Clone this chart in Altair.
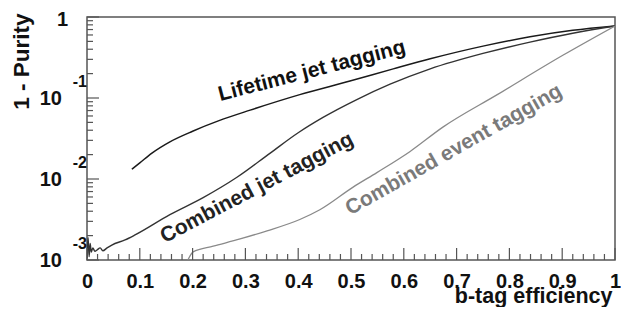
import altair as alt
import pandas as pd

# ---- data ----
lifetime_x = [0.085, 0.10, 0.123, 0.157, 0.20, 0.25, 0.309, 0.403, 0.498, 0.58, 0.65, 0.75, 0.839, 0.92, 1.0]
lifetime_y = [0.0132, 0.0158, 0.0209, 0.0288, 0.0389, 0.0525, 0.0708, 0.110, 0.162, 0.229, 0.305, 0.437, 0.569, 0.684, 0.774]

jet_x = [0.0, 0.002, 0.004, 0.006, 0.008, 0.011, 0.015, 0.019, 0.025, 0.030, 0.038, 0.047, 0.072, 0.091,
         0.157, 0.22, 0.284, 0.347, 0.40, 0.447, 0.511, 0.574, 0.65, 0.75, 0.839, 0.92, 1.0]
jet_y = [0.00105, 0.0019, 0.0011, 0.0016, 0.00125, 0.00141, 0.00128, 0.00133, 0.00141, 0.00130, 0.00141, 0.00153, 0.00177, 0.00204,
         0.00363, 0.00589, 0.0105, 0.0209, 0.0372, 0.0575, 0.0955, 0.148, 0.229, 0.355, 0.490, 0.631, 0.774]

event_x = [0.191, 0.201, 0.239, 0.29, 0.341, 0.403, 0.441, 0.504, 0.549, 0.612, 0.674, 0.777, 0.902, 1.0]
event_y = [0.0010, 0.00126, 0.00148, 0.00182, 0.00229, 0.00316, 0.00417, 0.00794, 0.0120, 0.0219, 0.0437, 0.110, 0.339, 0.774]

series_names = ["Lifetime jet tagging", "Combined jet tagging", "Combined event tagging"]
series_colors = ["#1a1a1a", "#333333", "#8a8a8a"]
series_widths = [1.5, 1.3, 1.2]

x_major_ticks = [0.0, 0.1, 0.2, 0.3, 0.4, 0.5, 0.6, 0.7, 0.8, 0.9, 1.0]
x_minor_ticks = [round(i * 0.02, 2) for i in range(51) if i % 5]
y_major_ticks = [0.001, 0.01, 0.1, 1.0]
y_minor_ticks = [m * 10.0 ** e for e in (-3, -2, -1) for m in range(2, 10)]

y_label_values = [1.0, 0.1, 0.01, 0.001]
y_label_base = ["1", "10", "10", "10"]
y_label_exp = ["", "-1", "-2", "-3"]

label_x = [0.426, 0.322, 0.695]
label_y = [0.215, 0.00774, 0.0228]
label_angle = [345.5, 332.3, 330.5]
label_color = ["#111111", "#222222", "#7a7a7a"]

# ---- build tables ----
rows = []
for name, xs, ys in zip(series_names, [lifetime_x, jet_x, event_x], [lifetime_y, jet_y, event_y]):
    for xv, yv in zip(xs, ys):
        rows.append({"series": name, "x": xv, "y": yv})
df = pd.DataFrame(rows)

W, H = 528, 243
FONT = "Liberation Sans"
FRAME = "#555555"

x_scale = alt.Scale(domain=[0, 1], nice=False, zero=False)
y_scale = alt.Scale(type="log", domain=[0.001, 1], nice=False)

lines = alt.Chart(df).mark_line(clip=True, interpolate="monotone").encode(
    x=alt.X("x:Q", scale=x_scale,
            axis=alt.Axis(values=x_major_ticks, format="~g", ticks=False, tickSize=0, domain=False, grid=False,
                          labelPadding=11, labelFontSize=20, labelFont=FONT, labelFontWeight="bold",
                          labelColor="#111", labelFlush=False, labelOverlap=False,
                          title="b-tag efficiency", titleFontSize=21.5, titleFont=FONT, titleFontWeight="bold",
                          titleColor="#111", titleX=525, titleY=42, titleAlign="right", titleBaseline="alphabetic")),
    y=alt.Y("y:Q", scale=y_scale,
            axis=alt.Axis(labels=False, ticks=False, domain=False, grid=False,
                          title="1 - Purity", titleFontSize=22.5, titleFont=FONT, titleFontWeight="bold",
                          titleColor="#111", titleX=-59, titleY=-4, titleAngle=270, titleAlign="right",
                          titleBaseline="alphabetic")),
    color=alt.Color("series:N", scale=alt.Scale(domain=series_names, range=series_colors), legend=None),
    strokeWidth=alt.StrokeWidth("series:N", scale=alt.Scale(domain=series_names, range=series_widths), legend=None),
    order=alt.Order("x:Q"),
)

xmaj = alt.Chart(pd.DataFrame({"x": x_major_ticks})).mark_rule(color=FRAME, strokeWidth=1.2).encode(
    x=alt.X("x:Q", scale=x_scale), y=alt.value(H), y2=alt.value(H - 12))
xmin = alt.Chart(pd.DataFrame({"x": x_minor_ticks})).mark_rule(color=FRAME, strokeWidth=1.2).encode(
    x=alt.X("x:Q", scale=x_scale), y=alt.value(H), y2=alt.value(H - 6))
ymaj = alt.Chart(pd.DataFrame({"y": y_major_ticks})).mark_rule(color=FRAME, strokeWidth=1.2).encode(
    y=alt.Y("y:Q", scale=y_scale), x=alt.value(0), x2=alt.value(12))
ymin = alt.Chart(pd.DataFrame({"y": y_minor_ticks})).mark_rule(color=FRAME, strokeWidth=1.2).encode(
    y=alt.Y("y:Q", scale=y_scale), x=alt.value(0), x2=alt.value(6))

ylab_df = pd.DataFrame({"y": y_label_values, "base": y_label_base, "exp": y_label_exp})
ybase_one = alt.Chart(ylab_df[ylab_df["base"] == "1"]).mark_text(
    font=FONT, fontWeight="bold", fontSize=20, align="right", baseline="middle", dy=3, color="#111").encode(
    y=alt.Y("y:Q", scale=y_scale), x=alt.value(-19), text="base:N")
ybase_ten = alt.Chart(ylab_df[ylab_df["base"] == "10"]).mark_text(
    font=FONT, fontWeight="bold", fontSize=20, align="right", baseline="middle", dy=1, color="#111").encode(
    y=alt.Y("y:Q", scale=y_scale), x=alt.value(-25), text="base:N")
yexp = alt.Chart(ylab_df[ylab_df["exp"] != ""]).mark_text(
    font=FONT, fontWeight="bold", fontSize=16, align="right", baseline="middle", dy=-16, color="#111").encode(
    y=alt.Y("y:Q", scale=y_scale), x=alt.value(0), text="exp:N")

texts = []
for name, lx, ly, ang, col in zip(series_names, label_x, label_y, label_angle, label_color):
    t = alt.Chart(pd.DataFrame({"x": [lx], "y": [ly], "t": [name]})).mark_text(
        font=FONT, fontWeight="bold", fontSize=21, align="center", baseline="middle",
        angle=ang, color=col).encode(
        x=alt.X("x:Q", scale=x_scale), y=alt.Y("y:Q", scale=y_scale), text="t:N")
    texts.append(t)

chart = alt.layer(lines, xmaj, xmin, ymaj, ymin, ybase_one, ybase_ten, yexp, *texts).properties(
    width=W, height=H,
    autosize=alt.AutoSizeParams(type="none"),
    padding={"left": 79, "top": 9, "right": 6, "bottom": 47},
    background="white",
).configure_view(stroke=FRAME, strokeWidth=1.5)

chart.save("out.html", embed_options={"renderer": "svg", "actions": False})
